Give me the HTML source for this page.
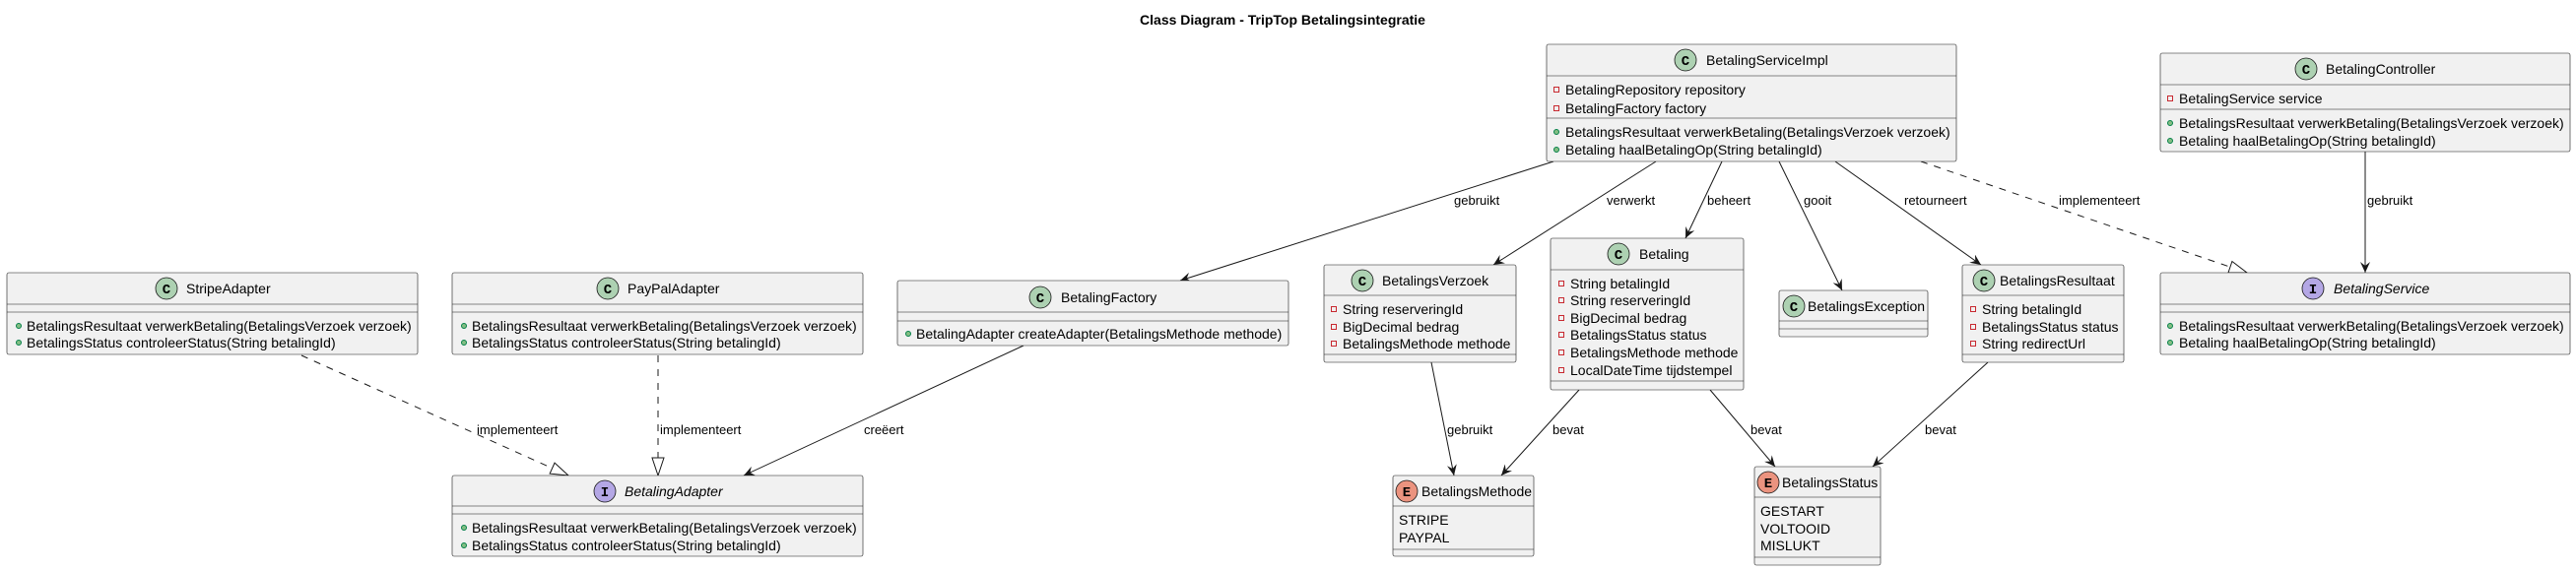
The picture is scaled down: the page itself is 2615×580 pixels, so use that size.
<!DOCTYPE html>
<html><head><meta charset="utf-8"><style>
html,body{margin:0;padding:0;background:#fff;}
svg{display:block;font-family:"Liberation Sans",Arial,sans-serif;}
.b{fill:#F1F1F1;stroke:#181818;stroke-width:0.6;}
.s{stroke:#181818;stroke-width:0.6;}
.t{font-size:14px;fill:#000;}
.n{font-size:14px;fill:#000;}
.l{font-size:13px;fill:#000;}
.e{stroke:#181818;stroke-width:1;fill:none;}
.d{stroke:#181818;stroke-width:1;fill:none;stroke-dasharray:7,7;}
.pv{fill:none;stroke:#C82930;stroke-width:1;}
.pb{fill:#84BE84;stroke:#038048;stroke-width:1;}
.ic{font-size:14px;font-weight:bold;font-family:"Liberation Mono",monospace;fill:#000;}
</style></head><body>
<svg width="2615" height="580" viewBox="0 0 2615 580" xmlns="http://www.w3.org/2000/svg">
<defs>
<marker id="ar" viewBox="0 0 12 10" refX="11" refY="5" markerWidth="12" markerHeight="10" orient="auto" markerUnits="userSpaceOnUse">
<path d="M0,0 L11,5 L0,10 L4,5 Z" fill="#181818"/>
</marker>
<marker id="tr" viewBox="0 0 20 14" refX="19" refY="7" markerWidth="20" markerHeight="14" orient="auto" markerUnits="userSpaceOnUse">
<path d="M1,1 L19,7 L1,13 Z" fill="#fff" stroke="#181818" stroke-width="1"/>
</marker>
</defs>
<text x="1302" y="25" text-anchor="middle" style="font-size:14px;font-weight:bold">Class Diagram - TripTop Betalingsintegratie</text>

<!-- edges -->
<line class="d" x1="306" y1="361" x2="577" y2="483" marker-end="url(#tr)"/>
<text class="l" x="484" y="441">implementeert</text>
<line class="d" x1="668" y1="361" x2="668" y2="483" marker-end="url(#tr)"/>
<text class="l" x="670" y="441">implementeert</text>
<line class="e" x1="1039" y1="351" x2="755" y2="483" marker-end="url(#ar)"/>
<text class="l" x="877" y="441">creëert</text>
<line class="e" x1="1577" y1="164" x2="1198" y2="285" marker-end="url(#ar)"/>
<text class="l" x="1476" y="208">gebruikt</text>
<line class="e" x1="1681" y1="164" x2="1516" y2="269" marker-end="url(#ar)"/>
<text class="l" x="1631" y="208">verwerkt</text>
<line class="e" x1="1748" y1="164" x2="1711" y2="242" marker-end="url(#ar)"/>
<text class="l" x="1733" y="208">beheert</text>
<line class="e" x1="1806" y1="164" x2="1870" y2="295" marker-end="url(#ar)"/>
<text class="l" x="1831" y="208">gooit</text>
<line class="e" x1="1863" y1="164" x2="2011" y2="269" marker-end="url(#ar)"/>
<text class="l" x="1933" y="208">retourneert</text>
<line class="d" x1="1950" y1="164" x2="2281" y2="277" marker-end="url(#tr)"/>
<text class="l" x="2090" y="208">implementeert</text>
<line class="e" x1="2401" y1="154" x2="2401" y2="277" marker-end="url(#ar)"/>
<text class="l" x="2403" y="208">gebruikt</text>
<line class="e" x1="1453" y1="368" x2="1476" y2="483" marker-end="url(#ar)"/>
<text class="l" x="1469" y="441">gebruikt</text>
<line class="e" x1="1603" y1="396" x2="1524" y2="483" marker-end="url(#ar)"/>
<text class="l" x="1576" y="441">bevat</text>
<line class="e" x1="1736" y1="396" x2="1802" y2="474" marker-end="url(#ar)"/>
<text class="l" x="1777" y="441">bevat</text>
<line class="e" x1="2018" y1="368" x2="1901" y2="474" marker-end="url(#ar)"/>
<text class="l" x="1954" y="441">bevat</text>

<!-- StripeAdapter -->
<rect class="b" x="7" y="277" width="417" height="83" rx="2"/>
<line class="s" x1="7" y1="309" x2="424" y2="309"/><line class="s" x1="7" y1="317" x2="424" y2="317"/>
<circle cx="169" cy="293" r="11" fill="#ADD1B2" stroke="#181818" stroke-width="0.8"/><text class="ic" x="169" y="298" text-anchor="middle">C</text>
<text class="n" x="189" y="298">StripeAdapter</text>
<circle class="pb" cx="19" cy="331" r="2.5"/><text class="t" x="27" y="336">BetalingsResultaat verwerkBetaling(BetalingsVerzoek verzoek)</text>
<circle class="pb" cx="19" cy="348" r="2.5"/><text class="t" x="27" y="353">BetalingsStatus controleerStatus(String betalingId)</text>

<!-- PayPalAdapter -->
<rect class="b" x="459" y="277" width="417" height="83" rx="2"/>
<line class="s" x1="459" y1="309" x2="876" y2="309"/><line class="s" x1="459" y1="317" x2="876" y2="317"/>
<circle cx="617" cy="293" r="11" fill="#ADD1B2" stroke="#181818" stroke-width="0.8"/><text class="ic" x="617" y="298" text-anchor="middle">C</text>
<text class="n" x="637" y="298">PayPalAdapter</text>
<circle class="pb" cx="471" cy="331" r="2.5"/><text class="t" x="479" y="336">BetalingsResultaat verwerkBetaling(BetalingsVerzoek verzoek)</text>
<circle class="pb" cx="471" cy="348" r="2.5"/><text class="t" x="479" y="353">BetalingsStatus controleerStatus(String betalingId)</text>

<!-- BetalingAdapter -->
<rect class="b" x="459" y="483" width="417" height="82" rx="2"/>
<line class="s" x1="459" y1="514" x2="876" y2="514"/><line class="s" x1="459" y1="522" x2="876" y2="522"/>
<circle cx="614" cy="499" r="11" fill="#B4A7E5" stroke="#181818" stroke-width="0.8"/><text class="ic" x="614" y="504" text-anchor="middle">I</text>
<text class="n" x="634" y="504" font-style="italic">BetalingAdapter</text>
<circle class="pb" cx="471" cy="536" r="2.5"/><text class="t" x="479" y="541">BetalingsResultaat verwerkBetaling(BetalingsVerzoek verzoek)</text>
<circle class="pb" cx="471" cy="554" r="2.5"/><text class="t" x="479" y="559">BetalingsStatus controleerStatus(String betalingId)</text>

<!-- BetalingFactory -->
<rect class="b" x="911" y="285" width="397" height="66" rx="2"/>
<line class="s" x1="911" y1="317" x2="1308" y2="317"/><line class="s" x1="911" y1="326" x2="1308" y2="326"/>
<circle cx="1056" cy="302" r="11" fill="#ADD1B2" stroke="#181818" stroke-width="0.8"/><text class="ic" x="1056" y="307" text-anchor="middle">C</text>
<text class="n" x="1077" y="307">BetalingFactory</text>
<circle class="pb" cx="922" cy="339" r="2.5"/><text class="t" x="930" y="344">BetalingAdapter createAdapter(BetalingsMethode methode)</text>

<!-- BetalingServiceImpl -->
<rect class="b" x="1570" y="45" width="416" height="119" rx="2"/>
<line class="s" x1="1570" y1="77" x2="1986" y2="77"/><line class="s" x1="1570" y1="120" x2="1986" y2="120"/>
<circle cx="1711" cy="61" r="11" fill="#ADD1B2" stroke="#181818" stroke-width="0.8"/><text class="ic" x="1711" y="66" text-anchor="middle">C</text>
<text class="n" x="1732" y="66">BetalingServiceImpl</text>
<rect class="pv" x="1577.5" y="88.5" width="5" height="5"/><text class="t" x="1589" y="96">BetalingRepository repository</text>
<rect class="pv" x="1577.5" y="107.5" width="5" height="5"/><text class="t" x="1589" y="115">BetalingFactory factory</text>
<circle class="pb" cx="1580" cy="134" r="2.5"/><text class="t" x="1589" y="139">BetalingsResultaat verwerkBetaling(BetalingsVerzoek verzoek)</text>
<circle class="pb" cx="1580" cy="152" r="2.5"/><text class="t" x="1589" y="157">Betaling haalBetalingOp(String betalingId)</text>

<!-- BetalingsVerzoek -->
<rect class="b" x="1344" y="269" width="195" height="99" rx="2"/>
<line class="s" x1="1344" y1="300" x2="1539" y2="300"/><line class="s" x1="1344" y1="360" x2="1539" y2="360"/>
<circle cx="1383" cy="285" r="11" fill="#ADD1B2" stroke="#181818" stroke-width="0.8"/><text class="ic" x="1383" y="290" text-anchor="middle">C</text>
<text class="n" x="1403" y="290">BetalingsVerzoek</text>
<rect class="pv" x="1351.5" y="311.5" width="5" height="5"/><text class="t" x="1363" y="319">String reserveringId</text>
<rect class="pv" x="1351.5" y="329.5" width="5" height="5"/><text class="t" x="1363" y="337">BigDecimal bedrag</text>
<rect class="pv" x="1351.5" y="346.5" width="5" height="5"/><text class="t" x="1363" y="354">BetalingsMethode methode</text>

<!-- Betaling -->
<rect class="b" x="1574" y="242" width="196" height="154" rx="2"/>
<line class="s" x1="1574" y1="274" x2="1770" y2="274"/><line class="s" x1="1574" y1="387" x2="1770" y2="387"/>
<circle cx="1643" cy="258" r="11" fill="#ADD1B2" stroke="#181818" stroke-width="0.8"/><text class="ic" x="1643" y="263" text-anchor="middle">C</text>
<text class="n" x="1664" y="263">Betaling</text>
<rect class="pv" x="1582.5" y="285.5" width="5" height="5"/><text class="t" x="1594" y="293">String betalingId</text>
<rect class="pv" x="1582.5" y="302.5" width="5" height="5"/><text class="t" x="1594" y="310">String reserveringId</text>
<rect class="pv" x="1582.5" y="320.5" width="5" height="5"/><text class="t" x="1594" y="328">BigDecimal bedrag</text>
<rect class="pv" x="1582.5" y="337.5" width="5" height="5"/><text class="t" x="1594" y="345">BetalingsStatus status</text>
<rect class="pv" x="1582.5" y="355.5" width="5" height="5"/><text class="t" x="1594" y="363">BetalingsMethode methode</text>
<rect class="pv" x="1582.5" y="373.5" width="5" height="5"/><text class="t" x="1594" y="381">LocalDateTime tijdstempel</text>

<!-- BetalingsMethode -->
<rect class="b" x="1414" y="483" width="143" height="82" rx="2"/>
<line class="s" x1="1414" y1="514" x2="1557" y2="514"/><line class="s" x1="1414" y1="558" x2="1557" y2="558"/>
<circle cx="1428" cy="499" r="11" fill="#EB937F" stroke="#181818" stroke-width="0.8"/><text class="ic" x="1428" y="504" text-anchor="middle">E</text>
<text class="n" x="1443" y="504">BetalingsMethode</text>
<text class="t" x="1420" y="533">STRIPE</text>
<text class="t" x="1420" y="551">PAYPAL</text>

<!-- BetalingsStatus -->
<rect class="b" x="1781" y="474" width="128" height="100" rx="2"/>
<line class="s" x1="1781" y1="505" x2="1909" y2="505"/><line class="s" x1="1781" y1="566" x2="1909" y2="566"/>
<circle cx="1795" cy="490" r="11" fill="#EB937F" stroke="#181818" stroke-width="0.8"/><text class="ic" x="1795" y="495" text-anchor="middle">E</text>
<text class="n" x="1809" y="495">BetalingsStatus</text>
<text class="t" x="1787" y="524">GESTART</text>
<text class="t" x="1787" y="542">VOLTOOID</text>
<text class="t" x="1787" y="559">MISLUKT</text>

<!-- BetalingsException -->
<rect class="b" x="1806" y="295" width="151" height="47" rx="2"/>
<line class="s" x1="1806" y1="326" x2="1957" y2="326"/><line class="s" x1="1806" y1="334" x2="1957" y2="334"/>
<circle cx="1821" cy="311" r="11" fill="#ADD1B2" stroke="#181818" stroke-width="0.8"/><text class="ic" x="1821" y="316" text-anchor="middle">C</text>
<text class="n" x="1835" y="316">BetalingsException</text>

<!-- BetalingsResultaat -->
<rect class="b" x="1992" y="269" width="164" height="99" rx="2"/>
<line class="s" x1="1992" y1="300" x2="2156" y2="300"/><line class="s" x1="1992" y1="360" x2="2156" y2="360"/>
<circle cx="2014" cy="285" r="11" fill="#ADD1B2" stroke="#181818" stroke-width="0.8"/><text class="ic" x="2014" y="290" text-anchor="middle">C</text>
<text class="n" x="2030" y="290">BetalingsResultaat</text>
<rect class="pv" x="2000.5" y="311.5" width="5" height="5"/><text class="t" x="2012" y="319">String betalingId</text>
<rect class="pv" x="2000.5" y="329.5" width="5" height="5"/><text class="t" x="2012" y="337">BetalingsStatus status</text>
<rect class="pv" x="2000.5" y="346.5" width="5" height="5"/><text class="t" x="2012" y="354">String redirectUrl</text>

<!-- BetalingController -->
<rect class="b" x="2193" y="54" width="416" height="100" rx="2"/>
<line class="s" x1="2193" y1="86" x2="2609" y2="86"/><line class="s" x1="2193" y1="111" x2="2609" y2="111"/>
<circle cx="2341" cy="70" r="11" fill="#ADD1B2" stroke="#181818" stroke-width="0.8"/><text class="ic" x="2341" y="75" text-anchor="middle">C</text>
<text class="n" x="2361" y="75">BetalingController</text>
<rect class="pv" x="2200.5" y="97.5" width="5" height="5"/><text class="t" x="2212" y="105">BetalingService service</text>
<circle class="pb" cx="2203" cy="125" r="2.5"/><text class="t" x="2212" y="130">BetalingsResultaat verwerkBetaling(BetalingsVerzoek verzoek)</text>
<circle class="pb" cx="2203" cy="143" r="2.5"/><text class="t" x="2212" y="148">Betaling haalBetalingOp(String betalingId)</text>

<!-- BetalingService -->
<rect class="b" x="2193" y="277" width="416" height="83" rx="2"/>
<line class="s" x1="2193" y1="309" x2="2609" y2="309"/><line class="s" x1="2193" y1="317" x2="2609" y2="317"/>
<circle cx="2348" cy="293" r="11" fill="#B4A7E5" stroke="#181818" stroke-width="0.8"/><text class="ic" x="2348" y="298" text-anchor="middle">I</text>
<text class="n" x="2369" y="298" font-style="italic">BetalingService</text>
<circle class="pb" cx="2203" cy="331" r="2.5"/><text class="t" x="2212" y="336">BetalingsResultaat verwerkBetaling(BetalingsVerzoek verzoek)</text>
<circle class="pb" cx="2203" cy="348" r="2.5"/><text class="t" x="2212" y="353">Betaling haalBetalingOp(String betalingId)</text>
</svg>
</body></html>
